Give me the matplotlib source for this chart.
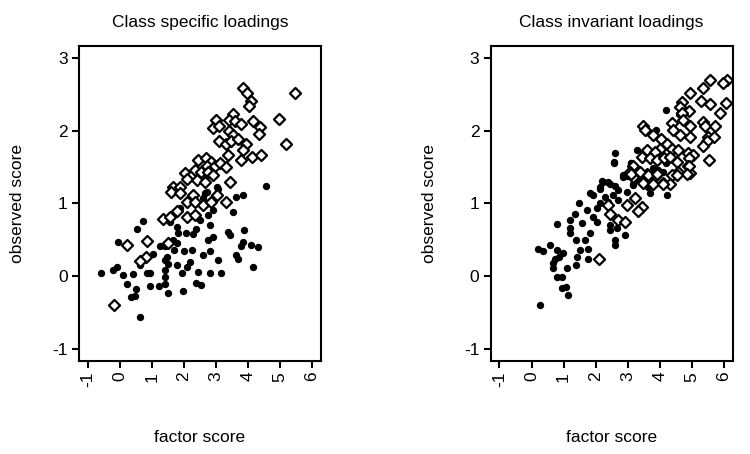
import numpy as np
import matplotlib.pyplot as plt

plt.rcParams['font.family'] = ['Liberation Sans', 'DejaVu Sans']
plt.rcParams['axes.unicode_minus'] = False

# ---- left panel: class specific loadings ----
spec_open_x = [3.85, 3.98, 4.10, 4.03, 5.48, 3.54, 3.40, 2.99, 2.92, 3.10, 3.59, 3.79,
               4.16, 4.39, 4.33, 4.96, 3.40, 3.54, 3.10, 3.33, 3.48, 3.69, 3.95, 3.85,
               5.19, 3.38, 3.77, 4.12, 4.41, 2.45, 2.69, 2.86, 2.71, 2.97, 3.12, 3.33,
               2.04, 2.24, 2.34, 2.55, 2.76, 2.92, 2.09, 2.40, 2.66, 3.43, 1.67, 1.88,
               1.59, 1.88, 2.29, 2.09, 2.34, 2.60, 2.86, 3.02, 3.33, 1.78, 1.36, 1.57,
               2.09, 2.34, 0.84, 0.22, 1.49, 0.82, 0.62, -0.19]
spec_open_y = [2.58, 2.51, 2.40, 2.34, 2.52, 2.23, 2.15, 2.14, 2.04, 2.06, 2.13, 2.09,
               2.13, 2.05, 1.95, 2.16, 2.00, 1.94, 1.86, 1.82, 1.85, 1.88, 1.81, 1.73,
               1.82, 1.66, 1.60, 1.64, 1.66, 1.60, 1.62, 1.57, 1.51, 1.51, 1.56, 1.50,
               1.42, 1.39, 1.46, 1.43, 1.43, 1.39, 1.33, 1.32, 1.30, 1.30, 1.23, 1.23,
               1.15, 1.14, 1.11, 1.02, 1.02, 0.98, 1.02, 1.11, 1.02, 0.90, 0.78, 0.81,
               0.81, 0.84, 0.49, 0.43, 0.45, 0.26, 0.21, -0.39]

spec_fill_x = [4.57, 3.04, 3.85, 3.64, 3.54, 3.07, 2.66, 2.60, 2.71, 2.91, 2.76, 2.40,
               2.50, 2.81, 1.88, 1.57, 0.74, 0.55, 1.78, 1.83, 2.07, 2.29, 2.38, 3.38,
               3.43, 3.87, 3.85, 3.79, 4.11, 4.31, 2.76, 2.91, -0.06, 1.26, 1.41, 1.67,
               1.78, 1.70, 2.00, 2.24, 2.81, 2.60, 3.07, 3.64, 3.69, 4.16, 1.05, 1.46,
               1.49, 1.41, 1.78, 2.09, 2.19, 1.93, 2.45, 2.81, 3.17, 0.84, 0.95, 1.41,
               0.64, -0.58, -0.22, -0.10, 0.10, 0.40, 0.22, 0.51, 0.93, 1.23, 0.35, 0.48,
               1.50, 1.98, 2.38, 2.52, 0.64, 1.41, 1.41, 2.71]
spec_fill_y = [1.24, 1.23, 1.11, 1.09, 0.88, 1.20, 1.14, 1.07, 1.00, 0.91, 0.84, 0.84,
               0.77, 0.70, 0.93, 0.75, 0.76, 0.65, 0.68, 0.59, 0.59, 0.58, 0.65, 0.61,
               0.56, 0.63, 0.47, 0.41, 0.43, 0.40, 0.50, 0.54, 0.47, 0.41, 0.41, 0.50,
               0.45, 0.36, 0.34, 0.36, 0.34, 0.29, 0.22, 0.29, 0.23, 0.13, 0.30, 0.27,
               0.17, 0.08, 0.15, 0.13, 0.20, 0.04, 0.06, 0.04, 0.04, 0.04, 0.04, -0.01,
               0.15, 0.04, 0.08, 0.12, 0.02, 0.03, -0.10, -0.17, -0.14, -0.14, -0.29, -0.27,
               -0.23, -0.20, -0.09, -0.12, -0.56, -0.10, 0.22, 1.16]

# ---- right panel: class invariant loadings ----
inv_open_x = [5.57, 6.11, 5.97, 5.34, 4.95, 4.69, 4.63, 5.28, 5.57, 6.07, 5.88, 4.93,
              4.69, 4.74, 4.37, 4.95, 5.36, 5.42, 5.73, 3.47, 3.54, 3.78, 4.40, 4.63,
              4.95, 5.52, 5.70, 5.47, 5.36, 4.03, 4.22, 4.01, 4.37, 4.58, 4.89, 5.04,
              4.93, 5.55, 3.59, 3.85, 3.44, 3.70, 3.91, 4.12, 4.33, 4.53, 4.89, 4.95,
              4.58, 4.37, 4.11, 3.18, 3.07, 3.33, 3.59, 3.85, 3.18, 3.47, 3.80, 4.32,
              4.93, 4.84, 4.53, 4.11, 3.12, 3.39, 3.65, 3.91, 3.23, 3.44, 3.33, 2.97,
              2.71, 2.92, 2.40, 2.45, 2.11]
inv_open_y = [2.70, 2.70, 2.65, 2.58, 2.52, 2.39, 2.33, 2.41, 2.37, 2.38, 2.24, 2.27,
              2.24, 2.14, 2.11, 2.06, 2.12, 2.06, 2.06, 2.06, 2.01, 1.94, 2.01, 1.94,
              1.91, 1.91, 1.91, 1.85, 1.79, 1.88, 1.82, 1.75, 1.75, 1.73, 1.69, 1.66,
              1.62, 1.60, 1.73, 1.71, 1.64, 1.62, 1.59, 1.63, 1.64, 1.57, 1.51, 1.42,
              1.43, 1.39, 1.28, 1.51, 1.43, 1.43, 1.41, 1.37, 1.36, 1.28, 1.27, 1.27,
              1.51, 1.40, 1.39, 1.27, 1.41, 1.43, 1.39, 1.41, 1.07, 0.95, 0.89, 0.98,
              0.77, 0.75, 0.98, 0.86, 0.24]

inv_fill_x = [4.20, 4.61, 4.43, 3.90, 4.11, 4.16, 2.60, 2.57, 3.28, 3.47, 3.12, 4.01,
              4.19, 2.92, 2.86, 3.28, 3.59, 3.96, 4.11, 3.78, 2.19, 2.40, 2.14, 2.60,
              3.18, 3.64, 2.57, 3.12, 2.86, 2.97, 3.18, 3.70, 4.22, 2.24, 2.45, 2.14,
              2.71, 2.97, 1.82, 1.93, 2.29, 2.55, 1.49, 2.14, 2.40, 2.71, 2.03, 1.73,
              1.93, 1.35, 1.20, 1.56, 0.78, 2.03, 1.20, 1.20, 1.82, 2.45, 2.45, 2.66,
              2.92, 1.40, 1.67, 2.60, 2.60, 1.77, 1.51, 0.57, 0.21, 0.36, 0.78, 0.99,
              1.43, 1.77, 0.73, 0.86, 0.68, 0.68, 1.12, 1.40, 0.78, 0.94, 0.94, 1.09,
              1.15, 0.28]
inv_fill_y = [2.28, 2.23, 2.00, 2.01, 1.87, 1.81, 1.69, 1.57, 1.73, 1.69, 1.55, 1.64,
              1.55, 1.39, 1.36, 1.32, 1.34, 1.46, 1.43, 1.48, 1.31, 1.30, 1.23, 1.24,
              1.25, 1.23, 1.56, 1.55, 1.39, 1.37, 1.26, 1.14, 1.11, 1.30, 1.27, 1.20,
              1.18, 1.16, 1.14, 1.11, 1.09, 1.11, 1.00, 1.01, 1.02, 1.04, 0.93, 0.91,
              0.82, 0.85, 0.77, 0.73, 0.72, 0.75, 0.66, 0.60, 0.60, 0.70, 0.63, 0.66,
              0.56, 0.50, 0.50, 0.50, 0.43, 0.38, 0.36, 0.43, 0.38, 0.34, 0.36, 0.32,
              0.27, 0.23, 0.23, 0.27, 0.18, 0.11, 0.11, 0.15, -0.01, -0.01, -0.16, -0.15,
              -0.26, -0.39]

ticks_x = [-1, 0, 1, 2, 3, 4, 5, 6]
ticks_y = [-1, 0, 1, 2, 3]

fig = plt.figure(figsize=(7.5, 4.54), dpi=100)

panels = [
    ("Class specific loadings", [0.105, 0.2055, 0.323, 0.693],
     spec_fill_x, spec_fill_y, spec_open_x, spec_open_y),
    ("Class invariant loadings", [0.654, 0.2055, 0.323, 0.693],
     inv_fill_x, inv_fill_y, inv_open_x, inv_open_y),
]

for title, rect, fx, fy, ox, oy in panels:
    ax = fig.add_axes(rect)
    ax.scatter(fx, fy, s=28, c='black', marker='o', linewidths=0, zorder=2)
    ax.scatter(ox, oy, s=32, facecolors='white', edgecolors='black',
               marker='D', linewidths=1.6, zorder=3)
    ax.set_xlim(-1.28, 6.28)
    ax.set_ylim(-1.16, 3.16)
    ax.set_xticks(ticks_x)
    ax.set_yticks(ticks_y)
    ax.set_xticklabels([str(t) for t in ticks_x], rotation=90)
    ax.tick_params(direction='out', length=5, width=1.5, labelsize=12.5, pad=3)
    for sp in ax.spines.values():
        sp.set_linewidth(1.5)
    x0, y0, w, h = rect
    fig.text(x0 + w / 2, 1 - 23 / 454, title, ha='center', va='center', fontsize=12.5)
    fig.text(x0 + w / 2, 1 - 438 / 454, "factor score", ha='center', va='center', fontsize=12.5)
    fig.text(x0 - 0.081, y0 + h / 2, "observed score", ha='center', va='center',
             rotation=90, fontsize=12.5)

fig.savefig("out.png", dpi=100)
